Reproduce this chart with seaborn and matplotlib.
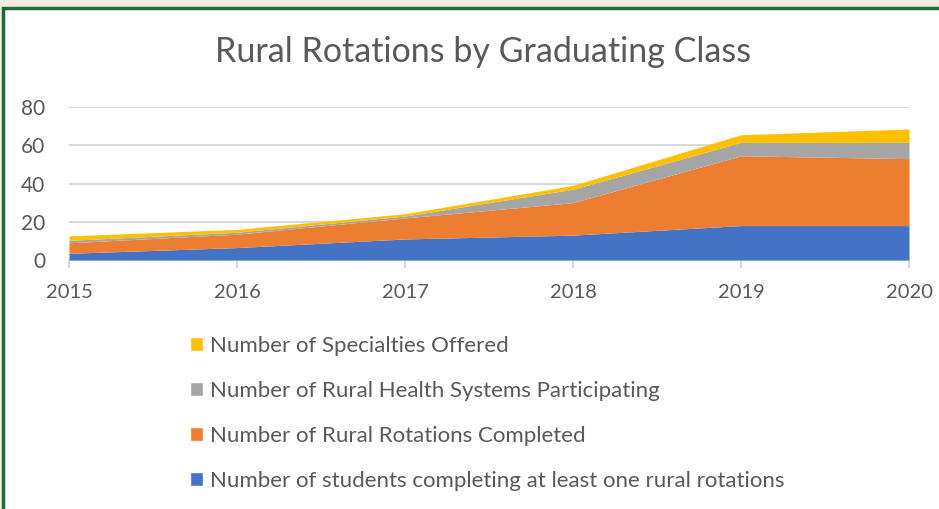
import matplotlib
matplotlib.use("Agg")
import matplotlib.pyplot as plt
import seaborn as sns
from matplotlib.patches import Rectangle, Patch

years = [2015, 2016, 2017, 2018, 2019, 2020]
students = [3.5, 6.5, 11, 13, 18, 18]
rotations = [5.5, 7, 11, 17, 36.5, 35]
systems = [1.3, 1, 1, 7, 7, 8.5]
specialties = [2.3, 1.5, 1.2, 2, 4, 7]

series_labels = [
    "Number of students completing at least one rural rotations",
    "Number of Rural Rotations Completed",
    "Number of Rural Health Systems Participating",
    "Number of Specialties Offered",
]
colors = ["#4472C4", "#ED7D31", "#A5A5A5", "#FFC000"]
yticks = [0, 20, 40, 60, 80]

sns.set_theme(style="white")
plt.rcParams['font.family'] = ['Lato', 'DejaVu Sans']

fig = plt.figure(figsize=(9.39, 5.09), dpi=100)
fig.patch.set_facecolor("#F4EEE2")
# white panel with green border
fig.patches.append(Rectangle((3/939, -0.05), 1.0, (509 - 8) / 509 + 0.05,
                             transform=fig.transFigure, facecolor="white",
                             edgecolor="#1E6B3A", linewidth=2.5, zorder=-5))

ax = fig.add_axes([69/939, 1 - 260/509, (909 - 69)/939, (260 - 107)/509])
ax.set_zorder(2)
ax.set_facecolor("none")
ax.stackplot(years, students, rotations, systems, specialties,
             colors=colors, labels=series_labels, linewidth=0, zorder=3)

ax.set_xlim(2015, 2020)
ax.set_ylim(0, 80)
ax.set_yticks(yticks)
ax.set_xticks(years)
ax.yaxis.grid(True, color="#D9D9D9", linewidth=1.5, zorder=0)
ax.set_axisbelow(True)
for s in ["top", "right", "left"]:
    ax.spines[s].set_visible(False)
ax.spines["bottom"].set_color("#D9D9D9")
ax.spines["bottom"].set_linewidth(1.5)
ax.tick_params(axis="x", which="both", bottom=True, length=6, width=1.5,
               color="#D9D9D9", labelsize=14.5, labelcolor="#595959", pad=11)
ax.tick_params(axis="y", left=False, labelsize=15, labelcolor="#595959", pad=11)

fig.text(483/939, 1 - 52/509, "Rural Rotations by Graduating Class",
         ha="center", va="center", fontsize=24.5, color="#595959")

handles = [Patch(facecolor=c) for c in colors][::-1]
leg = fig.legend(handles, series_labels[::-1], loc="upper left",
                 bbox_to_anchor=(190/939, 1 - 336/509), frameon=False,
                 fontsize=16, labelcolor="#595959", handlelength=0.6,
                 handleheight=0.6, handletextpad=0.3, labelspacing=1.12,
                 borderaxespad=0, borderpad=0)

fig.savefig("out.png", dpi=100, facecolor=fig.get_facecolor())
